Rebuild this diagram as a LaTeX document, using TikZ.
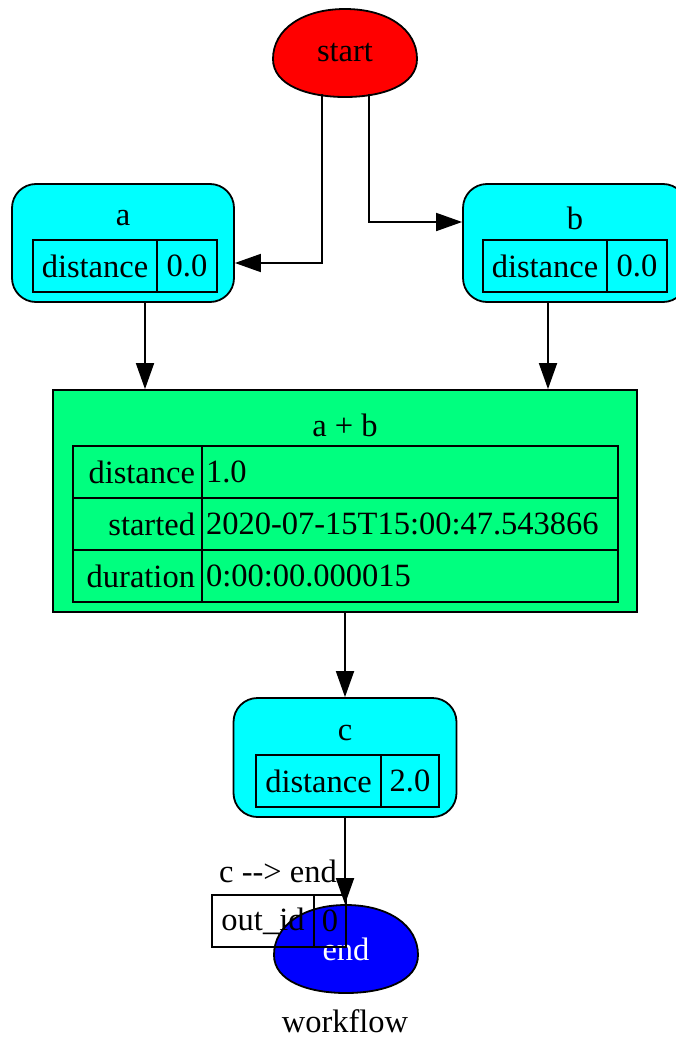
\documentclass[tikz,border=0pt]{standalone}
\usepackage{fontspec}
\setmainfont{Liberation Serif}
\usetikzlibrary{arrows.meta,positioning,backgrounds}
\definecolor{nodecyan}{HTML}{00FFFF}
\definecolor{springgreen}{HTML}{00FF7F}
% egg outline drawn round the centre of a node
\newcommand{\eggat}[2]{%
  \filldraw[fill=#2,line width=1.8pt,shift={(#1.center)}]
    (0,-44) .. controls (42,-44) and (72,-24) .. (72,6)
    .. controls (72,32) and (38,44) .. (0,44)
    .. controls (-38,44) and (-72,32) .. (-72,6)
    .. controls (-72,-24) and (-42,-44) .. cycle;}

\begin{document}
\begin{tikzpicture}[x=1pt,y=-1pt,font=\fontsize{32.5}{39}\selectfont,
  line width=1.8pt,>={Triangle[length=26pt,width=18pt]},
  eggnode/.style={minimum width=144pt,minimum height=88pt,inner sep=0pt},
  rbox/.style={draw,fill=nodecyan,rounded corners=24pt,inner sep=0pt},
  gbox/.style={draw,fill=springgreen,inner sep=0pt},
  cell/.style={draw,minimum height=52pt,inner sep=0pt},
  keycell/.style={cell,minimum width=129pt,text width=115pt,align=right},
  valcell/.style={cell,minimum width=416pt,text width=408pt,align=left}]
\useasboundingbox (0,0) rectangle (675,1038);
\node[eggnode] (start) at (345,53) {start};
% a
\node[rbox,minimum width=222pt,minimum height=118pt] (a) at (123,243) {};
\node (atitle) at (123,218) {a};
\node[cell,minimum width=124pt] (adist) at (95,266) {distance};
\node[cell,minimum width=60pt,right=-1.8pt of adist] (aval) {0.0};
% b
\node[rbox,minimum width=224pt,minimum height=118pt] (b) at (575,243) {};
\node (btitle) at (575,218) {b};
\node[cell,minimum width=124pt] (bdist) at (545,266) {distance};
\node[cell,minimum width=60pt,right=-1.8pt of bdist] (bval) {0.0};
% a + b
\node[gbox,minimum width=584pt,minimum height=222pt] (ab) at (345,501) {};
\node (abtitle) at (345,425) {a + b};
\node[keycell] (abdist) at (137.5,472) {distance};
\node[valcell,right=-1.8pt of abdist] (abdistv) {1.0};
\node[keycell,below=-1.8pt of abdist] (abstart) {started};
\node[valcell,right=-1.8pt of abstart] (abstartv) {2020-07-15T15:00:47.543866};
\node[keycell,below=-1.8pt of abstart] (abdur) {duration};
\node[valcell,right=-1.8pt of abdur] (abdurv) {0:00:00.000015};
% c
\node[rbox,minimum width=223pt,minimum height=119pt] (c) at (345,757.5) {};
\node (ctitle) at (345,733) {c};
\node[cell,minimum width=125pt] (cdist) at (318.5,781) {distance};
\node[cell,minimum width=58pt,right=-1.8pt of cdist] (cval) {2.0};
% end
\node[eggnode,text=white] (end) at (346,949) {end};
\node (elabel) at (278,871) {c -{}-> end};
\node[cell,minimum width=102pt] (outkey) at (263,921) {out\_id};
\node[cell,minimum width=32pt,right=-1.8pt of outkey] (outval) {0};
\node (wflabel) at (345,1021) {workflow};
\begin{scope}[on background layer]
\eggat{start}{red}
\eggat{end}{blue}
\end{scope}
\draw[->] ([xshift=-23pt,yshift=4pt]start.south) |- ([yshift=-20pt]a.east);
\draw[->] ([xshift=24pt,yshift=4pt]start.south) |- ([yshift=21pt]b.west);
\draw[->] ([xshift=22pt]a.south) -- ([xshift=22pt]a.south |- ab.north);
\draw[->] ([xshift=-27pt]b.south) -- ([xshift=-27pt]b.south |- ab.north);
\draw[->] (ab.south) -- (ab.south |- c.north);
\draw[->] (c.south) -- (c.south |- end.north);
\end{tikzpicture}
\end{document}
